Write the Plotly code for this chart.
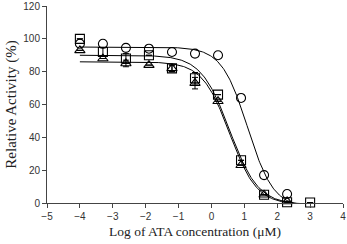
import numpy as np
import plotly.graph_objects as go

log_conc = [-4.0, -3.3, -2.6, -1.9, -1.2, -0.5, 0.2, 0.9, 1.6, 2.3]
log_conc_sq = [-4.0, -3.3, -2.6, -1.9, -1.2, -0.5, 0.2, 0.9, 1.6, 2.3, 3.0]

circle_vals = [97, 97, 94.5, 94, 92, 91, 90, 64, 17, 5.5]
square_vals = [100, 92, 88, 90, 82, 76, 66, 26, 5, 0.5, 0.3]
square_err = [None, 2.5, 3, None, 2, 3.5, None, None, None, None, None]
triangle_vals = [93, 88, 85, 84, 82, 73, 62, 23, 5, 1]
triangle_err = [None, None, 2, None, 2, 3.5, None, None, None, None]

# fitted 4-parameter logistic curves: (top, bottom, logIC50, hill)
fit_circle = (95, -3, 1.1, 1.1)
fit_square = (90, -1, 0.55, 1.0)
fit_triangle = (86, -1, 0.55, 1.05)

def logistic(x, p):
    top, bottom, c, h = p
    return bottom + (top - bottom) / (1 + 10 ** ((x - c) * h))

xs = np.linspace(-4, 3.2, 300)

fig = go.Figure()
for p in (fit_circle, fit_square, fit_triangle):
    fig.add_trace(go.Scatter(x=xs, y=logistic(xs, p), mode="lines",
                             line=dict(color="black", width=1), showlegend=False,
                             hoverinfo="skip"))

def mk(sym):
    return dict(symbol=sym, color="black", size=9, line=dict(color="black", width=1.1))

err = lambda a: dict(type="data", array=a, color="black", thickness=1, width=3)

fig.add_trace(go.Scatter(x=log_conc_sq, y=square_vals, mode="markers",
                         marker=mk("square-open"), error_y=err(square_err),
                         showlegend=False, cliponaxis=False))
fig.add_trace(go.Scatter(x=log_conc, y=circle_vals, mode="markers",
                         marker=mk("circle-open"),
                         showlegend=False, cliponaxis=False))
fig.add_trace(go.Scatter(x=log_conc, y=triangle_vals, mode="markers",
                         marker=mk("triangle-up-open"), error_y=err(triangle_err),
                         showlegend=False, cliponaxis=False))

axis_common = dict(showgrid=False, zeroline=False, showline=True, linecolor="#444",
                   linewidth=1, ticks="outside", ticklen=4, tickcolor="#444", automargin=False,
                   tickfont=dict(family="Liberation Sans, Arial", size=10, color="#333"))

fig.update_layout(
    width=347, height=244,
    margin=dict(l=47, r=4, t=6, b=41),
    plot_bgcolor="white", paper_bgcolor="white",
    xaxis=dict(range=[-5, 4], dtick=1,
               title=dict(text="Log of ATA concentration (μM)", standoff=5,
                          font=dict(family="Liberation Serif, Times New Roman", size=13.5, color="#222")),
               **axis_common),
    yaxis=dict(range=[0, 120], dtick=20,
               title=dict(text="Relative Activity (%)", standoff=3,
                          font=dict(family="Liberation Serif, Times New Roman", size=15, color="#222")),
               **axis_common),
)

fig.write_html("out.html", config={"displayModeBar": False},
               post_script="document.body.style.margin='0';document.body.style.overflow='hidden';")
